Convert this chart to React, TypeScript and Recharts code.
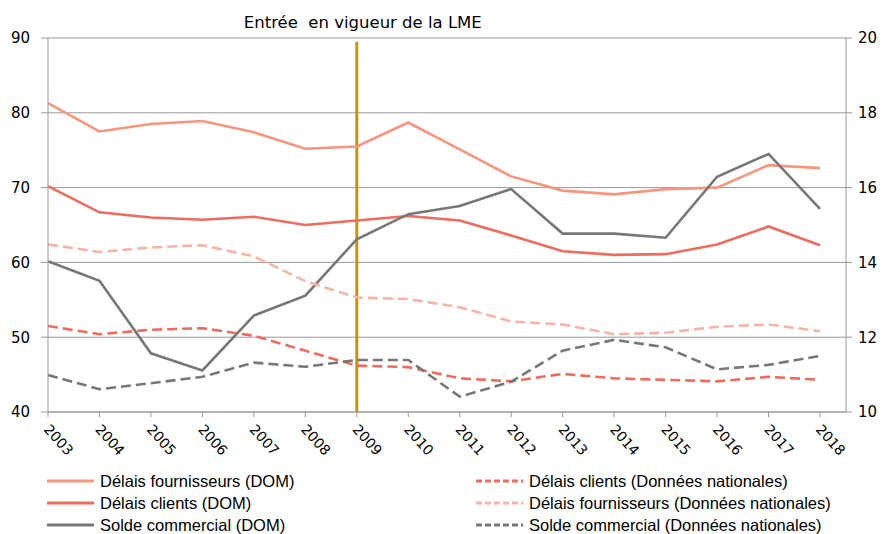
import React from 'react';
import { LineChart, Line, XAxis, YAxis, CartesianGrid, ReferenceLine } from 'recharts';

const years = ['2003','2004','2005','2006','2007','2008','2009','2010','2011','2012','2013','2014','2015','2016','2017','2018'];
const delaisFournisseursDom = [81.3, 77.5, 78.5, 78.9, 77.4, 75.2, 75.5, 78.7, 75.1, 71.5, 69.6, 69.1, 69.8, 70.0, 73.0, 72.6];
const delaisClientsDom = [70.2, 66.7, 66.0, 65.7, 66.1, 65.0, 65.6, 66.2, 65.6, 63.6, 61.5, 61.0, 61.1, 62.4, 64.8, 62.3];
const soldeCommercialDom = [14.03, 13.51, 11.57, 11.11, 12.58, 13.11, 14.62, 15.29, 15.51, 15.96, 14.77, 14.77, 14.66, 16.29, 16.9, 15.43];
const delaisClientsNat = [51.5, 50.4, 51.0, 51.2, 50.2, 48.2, 46.2, 46.0, 44.5, 44.1, 45.1, 44.5, 44.3, 44.1, 44.7, 44.3];
const delaisFournisseursNat = [62.4, 61.4, 62.0, 62.3, 60.8, 57.5, 55.3, 55.1, 54.0, 52.1, 51.7, 50.4, 50.6, 51.4, 51.7, 50.8];
const soldeCommercialNat = [10.99, 10.61, 10.77, 10.94, 11.32, 11.21, 11.39, 11.39, 10.41, 10.81, 11.64, 11.93, 11.73, 11.14, 11.26, 11.5];

const leftTicks = [40, 50, 60, 70, 80, 90];
const rightTicks = [10, 12, 14, 16, 18, 20];
const title = 'Entrée\u00a0 en vigueur de la LME';

const series = [
  { key: 'fdom', name: 'Délais fournisseurs (DOM)', values: delaisFournisseursDom, color: '#F8957C', dash: undefined, axis: 'left', col: 0 },
  { key: 'cdom', name: 'Délais clients (DOM)', values: delaisClientsDom, color: '#EF6B5D', dash: undefined, axis: 'left', col: 0 },
  { key: 'sdom', name: 'Solde commercial (DOM)', values: soldeCommercialDom, color: '#777777', dash: undefined, axis: 'right', col: 0 },
  { key: 'cnat', name: 'Délais clients (Données nationales)', values: delaisClientsNat, color: '#EF6B5D', dash: '10 5', axis: 'left', col: 1 },
  { key: 'fnat', name: 'Délais fournisseurs (Données nationales)', values: delaisFournisseursNat, color: '#F9B3A3', dash: '10 5', axis: 'left', col: 1 },
  { key: 'snat', name: 'Solde commercial (Données nationales)', values: soldeCommercialNat, color: '#777777', dash: '10 5', axis: 'right', col: 1 },
];

const data = years.map((y, i) => {
  const row: any = { year: y };
  series.forEach((s) => { row[s.key] = s.values[i]; });
  return row;
});

const FONT = '"DejaVu Sans", Verdana, sans-serif';

const XTick = (props: any) => {
  const { x, y, payload } = props;
  return (
    <text x={x - 5} y={y + 11} transform={`rotate(48, ${x - 5}, ${y + 11})`} textAnchor="start" fontSize={14} fontFamily={FONT} fill="#000">
      {payload.value}
    </text>
  );
};

export default function App() {
  const left = series.filter((s) => s.col === 0);
  const right = series.filter((s) => s.col === 1);
  const legendItem = (s: any, i: number, x0: number) => (
    <div key={s.key} style={{ position: 'absolute', left: x0, top: 470 + i * 22, height: 22, display: 'flex', alignItems: 'center', whiteSpace: 'nowrap' }}>
      <svg width={47} height={6} style={{ display: 'block' }}>
        <line x1={0} y1={3} x2={47} y2={3} stroke={s.color} strokeWidth={3} strokeDasharray={s.dash ? '6 3' : undefined} />
      </svg>
      <span style={{ marginLeft: 6, fontFamily: '"Liberation Sans", Arial, sans-serif', fontSize: 16.5, color: '#000' }}>{s.name}</span>
    </div>
  );
  return (
    <div style={{ position: 'absolute', left: 0, top: 0, width: 887, height: 534, background: '#fff', overflow: 'hidden' }}>
      <LineChart width={887} height={534} data={data} margin={{ top: 38, right: 0, left: 0, bottom: 0 }}>
        <CartesianGrid yAxisId="left" vertical={false} stroke="#9a9a9a" strokeWidth={1} />
        <XAxis dataKey="year" interval={0} padding={{ left: 0, right: 26 }} height={122} axisLine={{ stroke: '#999' }} tickLine={{ stroke: '#999' }} tickSize={5} tick={<XTick />} />
        <YAxis yAxisId="left" width={48} domain={[40, 90]} ticks={leftTicks} type="number" axisLine={{ stroke: '#999' }} tickLine={{ stroke: '#999' }} tickSize={7} tickMargin={11} tick={{ fontSize: 15, fontFamily: FONT, fill: '#000' }} />
        <YAxis yAxisId="right" orientation="right" width={41} domain={[10, 20]} ticks={rightTicks} type="number" axisLine={{ stroke: '#999' }} tickLine={{ stroke: '#999' }} tickSize={6} tickMargin={6} tick={{ fontSize: 15, fontFamily: FONT, fill: '#000' }} />
        <ReferenceLine
          yAxisId="left"
          segment={[{ x: '2009', y: 89.5 }, { x: '2009', y: 40 }]}
          stroke="#C8940A"
          strokeWidth={3}
          label={{ value: title, position: 'top', offset: 14, dx: 6, fontSize: 16.5, fontFamily: FONT, fill: '#000' }}
        />
        {series.map((s) => (
          <Line key={s.key} yAxisId={s.axis} type="linear" dataKey={s.key} name={s.name} stroke={s.color} strokeWidth={2.6} strokeDasharray={s.dash} dot={false} activeDot={false} isAnimationActive={false} />
        ))}
      </LineChart>
      {left.map((s, i) => legendItem(s, i, 47))}
      {right.map((s, i) => legendItem(s, i, 476))}
    </div>
  );
}
